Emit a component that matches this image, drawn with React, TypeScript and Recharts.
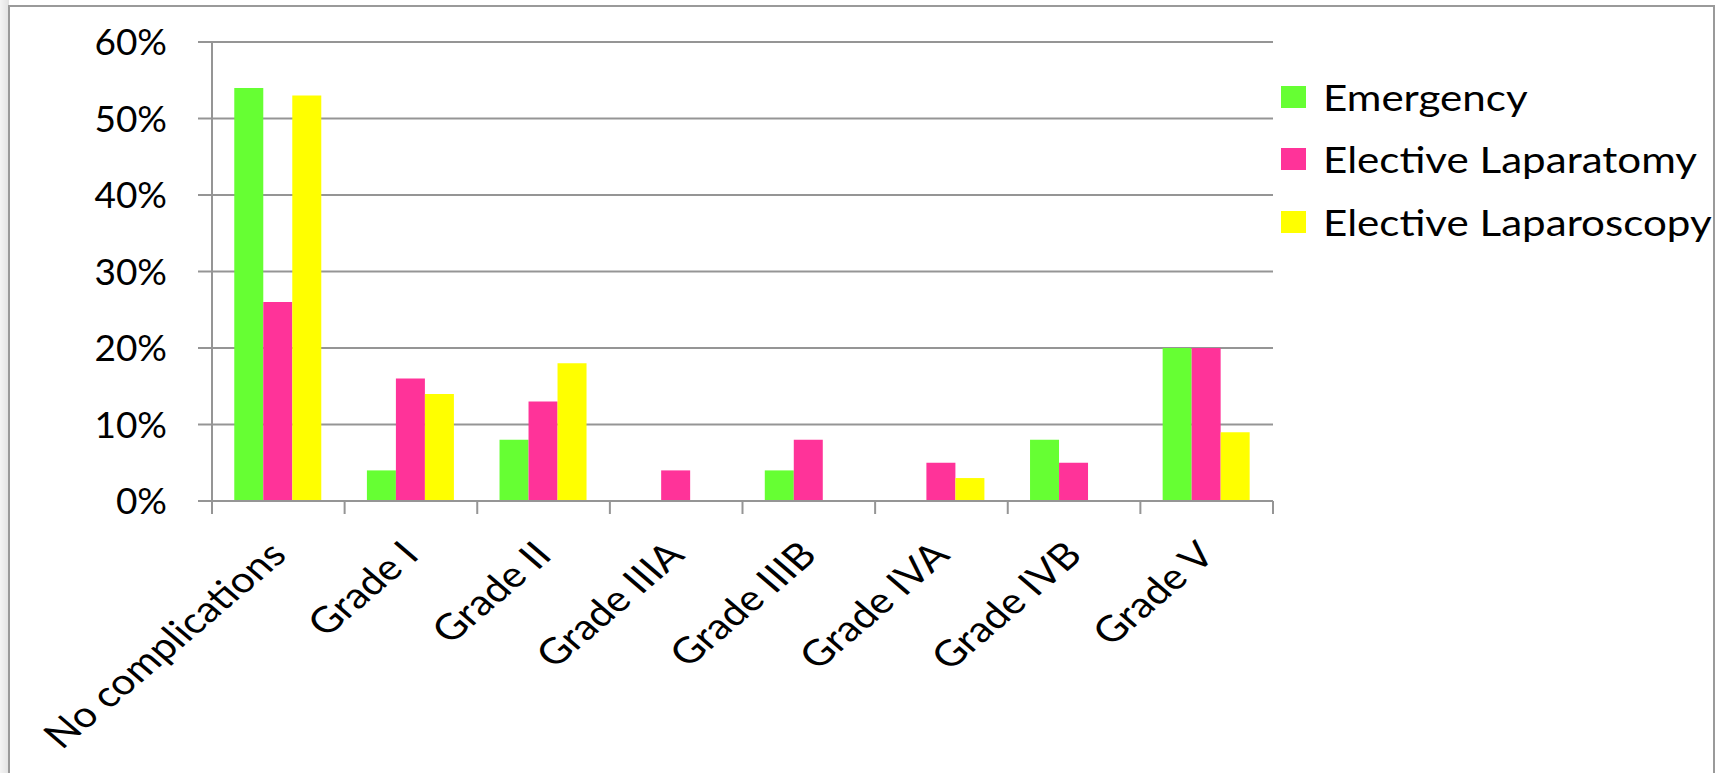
import React from 'react';
import { BarChart, Bar, XAxis, YAxis, CartesianGrid, Legend } from 'recharts';

const categories = [
  'No complications',
  'Grade I',
  'Grade II',
  'Grade IIIA',
  'Grade IIIB',
  'Grade IVA',
  'Grade IVB',
  'Grade V',
];
const emergency = [54, 4, 8, 0, 4, 0, 8, 20];
const electiveLaparatomy = [26, 16, 13, 4, 8, 5, 5, 20];
const electiveLaparoscopy = [53, 14, 18, 0, 0, 3, 0, 9];
const yTicks = [0, 10, 20, 30, 40, 50, 60];
const seriesNames = ['Emergency', 'Elective Laparatomy', 'Elective Laparoscopy'];
const seriesColors = ['#66FF33', '#FF3399', '#FFFF00'];

const data = categories.map((name, i) => ({
  name,
  emergency: emergency[i],
  laparatomy: electiveLaparatomy[i],
  laparoscopy: electiveLaparoscopy[i],
}));

const FONT = 'Lato, "Open Sans", sans-serif';
const GRID = '#959595';
const FS = 36;
const STRETCH = 1.17;

const XTick = (props: any) => {
  const { x, y, payload, index, visibleTicksCount } = props;
  const half = payload && payload.offset ? payload.offset : 0;
  const lx = x + 10;
  const ly = y + 56;
  return (
    <g>
      <line x1={x - half} y1={y} x2={x - half} y2={y + 13} stroke={GRID} strokeWidth={2} />
      {index === visibleTicksCount - 1 && (
        <line x1={x + half} y1={y} x2={x + half} y2={y + 13} stroke={GRID} strokeWidth={2} />
      )}
      <text
        x={0}
        y={0}
        transform={`translate(${lx} ${ly}) scale(${STRETCH} 1) rotate(-45)`}
        textAnchor="end"
        fontSize={FS}
        fontFamily={FONT}
        fill="#000"
      >
        {payload.value}
      </text>
    </g>
  );
};

const LegendContent = (props: any) => {
  const payload = [...(props.payload || [])].sort(
    (a: any, b: any) => seriesNames.indexOf(a.value) - seriesNames.indexOf(b.value)
  );
  return (
    <div style={{ fontFamily: FONT, fontSize: FS, color: '#000' }}>
      {payload.map((p: any) => (
        <div key={p.value} style={{ display: 'flex', alignItems: 'center', height: 62.3 }}>
          <div style={{ width: 25, height: 22, background: p.color, marginRight: 17, flexShrink: 0 }} />
          <span
            style={{
              whiteSpace: 'nowrap',
              lineHeight: 1,
              display: 'inline-block',
              transform: `scaleX(${STRETCH})`,
              transformOrigin: 'left center',
            }}
          >
            {p.value}
          </span>
        </div>
      ))}
    </div>
  );
};

export default function App() {
  return (
    <div
      style={{
        position: 'absolute',
        left: 0,
        top: 0,
        width: 1721,
        height: 773,
        overflow: 'hidden',
        background: '#ffffff',
      }}
    >
      <div
        style={{
          position: 'absolute',
          left: 0,
          top: 0,
          width: 9,
          height: 773,
          background: 'linear-gradient(to right, #f4f4f4, #e2e2e2)',
        }}
      />
      <div
        style={{
          position: 'absolute',
          left: 8,
          top: 5,
          width: 1707,
          height: 900,
          border: '2px solid #9a9a9a',
          boxSizing: 'border-box',
          background: '#ffffff',
        }}
      />
      <div style={{ position: 'absolute', left: 0, top: 0 }}>
        <BarChart
          width={1721}
          height={773}
          data={data}
          margin={{ top: 42, right: 448, left: 0, bottom: 0 }}
          barCategoryGap="16.8%"
          barGap={0}
        >
          <CartesianGrid vertical={false} stroke={GRID} strokeWidth={2} />
          <XAxis
            dataKey="name"
            interval={0}
            height={272}
            tickLine={false}
            tickSize={0}
            tickMargin={0}
            axisLine={{ stroke: GRID, strokeWidth: 2 }}
            tick={<XTick />}
          />
          <YAxis
            width={212}
            domain={[0, 60]}
            ticks={yTicks}
            tickFormatter={(v: number) => `${v}%`}
            tickSize={14}
            tickMargin={31}
            axisLine={{ stroke: GRID, strokeWidth: 2 }}
            tickLine={{ stroke: GRID, strokeWidth: 2 }}
            tick={{ fontSize: 37, fontFamily: FONT, fill: '#000' }}
          />
          <Legend
            layout="vertical"
            align="center"
            verticalAlign="middle"
            wrapperStyle={{ left: 1281, top: 66, width: 440 }}
            content={<LegendContent />}
          />
          <Bar dataKey="emergency" name={seriesNames[0]} fill={seriesColors[0]} isAnimationActive={false} />
          <Bar dataKey="laparatomy" name={seriesNames[1]} fill={seriesColors[1]} isAnimationActive={false} />
          <Bar dataKey="laparoscopy" name={seriesNames[2]} fill={seriesColors[2]} isAnimationActive={false} />
        </BarChart>
      </div>
    </div>
  );
}
